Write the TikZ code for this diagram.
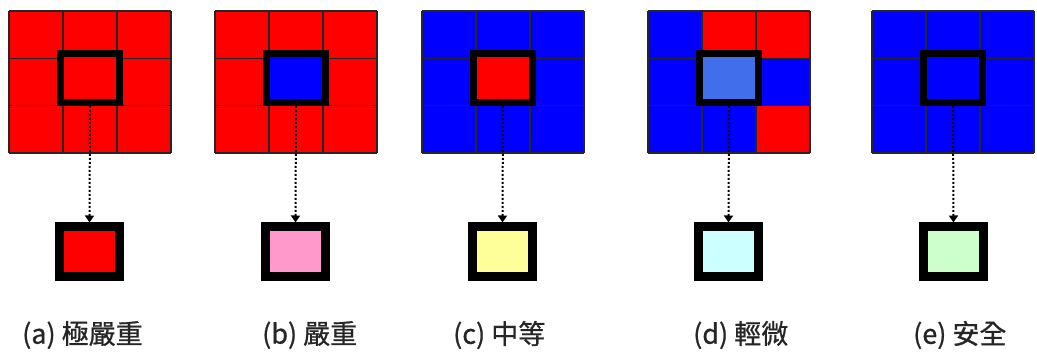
\documentclass[tikz,border=0pt]{standalone}
\usepackage{fontspec}
\newfontfamily\cjk{Noto Sans CJK TC}[FakeBold=0.8]
\usetikzlibrary{arrows.meta,calc}
\definecolor{cred}{RGB}{255,0,0}
\definecolor{cblue}{RGB}{0,0,255}
\definecolor{cmid}{RGB}{65,110,235}
\definecolor{cpink}{RGB}{255,153,204}
\definecolor{cyel}{RGB}{255,255,153}
\definecolor{ccyan}{RGB}{204,255,255}
\definecolor{cgreen}{RGB}{204,255,204}
\tikzset{
  cellfill/.style={fill=#1},
  gridline/.style={draw=black!85, line width=1.2pt},
  centerbox/.style={draw=black, line width=7pt, fill=#1, minimum width=59pt, minimum height=49pt, inner sep=0pt},
  resbox/.style={draw=black, line width=9pt, fill=#1, minimum width=60pt, minimum height=50pt, inner sep=0pt},
  link/.style={line width=2pt, dash pattern=on 2pt off 2pt, -{Triangle[width=9pt,length=7pt]}},
  caption/.style={anchor=west, font=\cjk\fontsize{27}{30}\selectfont, text=black!85, inner sep=0pt}
}
\newcommand{\gridpanel}[2]{%
  \fill[cellfill=#2] (#1,11) rectangle ++(162,142);
}
\newcommand{\gridlines}[1]{%
  \foreach \k in {0,1,2,3}{
    \draw[gridline] ($(#1,11)+(54*\k,0)$) -- ++(0,142);
    \draw[gridline] ($(#1,11)+(0,47.33*\k)$) -- ++(162,0);
  }
}
\begin{document}
\begin{tikzpicture}[x=1pt,y=-1pt]
\useasboundingbox (0,0) rectangle (1037,358);
% panel a
\gridpanel{9}{cred}
\gridlines{9}
\node[centerbox=cred] (ca) at (90,78) {};
\node[resbox=cred] (ra) at (89.5,252) {};
\draw[link] (ca.south) -- (ra.north);
\node[caption] (la) at (22,335) {(a) 極嚴重};
% panel b
\gridpanel{215}{cred}
\gridlines{215}
\node[centerbox=cblue] (cb) at (296,78) {};
\node[resbox=cpink] (rb) at (295.5,252) {};
\draw[link] (cb.south) -- (rb.north);
\node[caption] (lb) at (262,335) {(b) 嚴重};
% panel c
\gridpanel{422}{cblue}
\gridlines{422}
\node[centerbox=cred] (cc) at (503,78) {};
\node[resbox=cyel] (rc) at (502.5,252) {};
\draw[link] (cc.south) -- (rc.north);
\node[caption] (lc) at (453,335) {(c) 中等};
% panel d
\gridpanel{648}{cblue}
\fill[cred] (702,11) rectangle ++(108,47.33);
\fill[cred] (756,105.67) rectangle ++(54,47.33);
\gridlines{648}
\node[centerbox=cmid] (cd) at (729,78) {};
\node[resbox=ccyan] (rd) at (728.5,252) {};
\draw[link] (cd.south) -- (rd.north);
\node[caption] (ld) at (693,335) {(d) 輕微};
% panel e
\gridpanel{872}{cblue}
\gridlines{872}
\node[centerbox=cblue] (ce) at (953,78) {};
\node[resbox=cgreen] (re) at (953.5,252) {};
\draw[link] (ce.south) -- (re.north);
\node[caption] (le) at (913,335) {(e) 安全};
\end{tikzpicture}
\end{document}
